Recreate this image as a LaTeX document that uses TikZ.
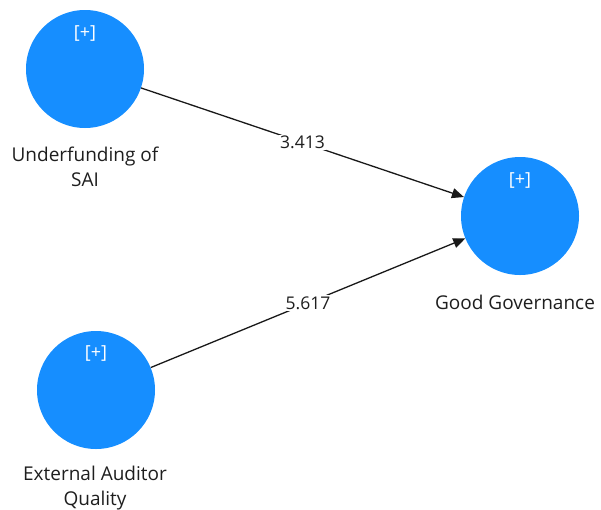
\documentclass[tikz,border=0pt]{standalone}
\usepackage{fontspec}
\setmainfont{Open Sans}
\usetikzlibrary{arrows.meta}
\definecolor{lvblue}{RGB}{22,142,255}
\definecolor{txtcol}{RGB}{30,30,30}
\begin{document}
\begin{tikzpicture}[x=1pt,y=-1pt,
  lv/.style={circle,fill=lvblue,draw=none,minimum size=118pt,inner sep=0pt},
  plusmark/.style={text=white,font=\fontsize{18}{20}\selectfont,inner sep=0pt},
  lvlabel/.style={text=txtcol,font=\fontsize{19}{25}\selectfont,align=center,inner sep=0pt},
  coeflabel/.style={fill=white,text=txtcol,font=\fontsize{17.5}{20}\selectfont,inner sep=1.5pt},
  relarrow/.style={draw=black!90,line width=1.3pt,-{Triangle[length=12pt,width=10pt]}}]
\useasboundingbox (0,0) rectangle (601,509);
\node[lv] (ufs) at (85,69) {};
\node[lv] (gg) at (520,216) {};
\node[lv] (eaq) at (96,390) {};
\node[plusmark] (p1) at (85,33) {[+]};
\node[plusmark] (p2) at (520,180) {[+]};
\node[plusmark] (p3) at (96,353) {[+]};
\node[lvlabel] (l1) at (85,167) {Underfunding of\\SAI};
\node[lvlabel] (l2) at (515,302) {Good Governance};
\node[lvlabel] (l3) at (95,488) {External Auditor\\Quality};
\draw[relarrow] (ufs) -- node[coeflabel] (c1) {3.413} (gg);
\draw[relarrow] (eaq) -- node[coeflabel] (c2) {5.617} (gg);
\end{tikzpicture}
\end{document}
